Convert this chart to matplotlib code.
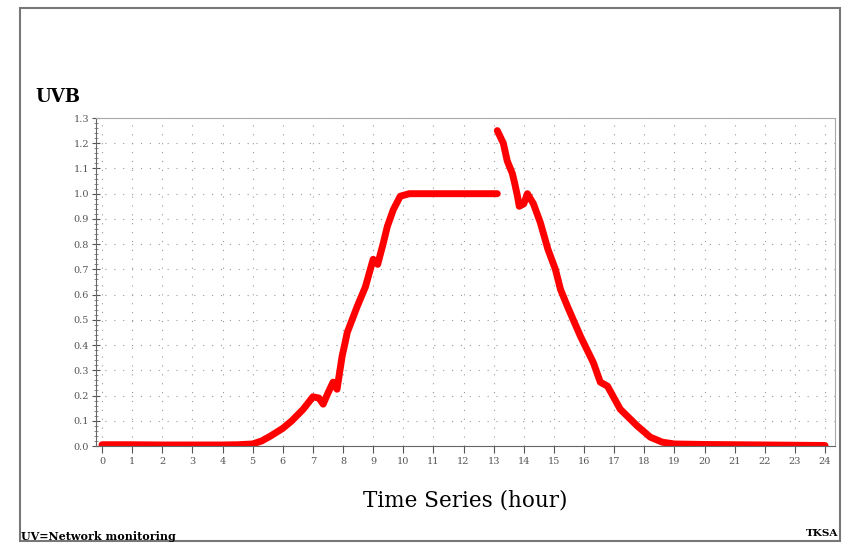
import matplotlib
matplotlib.use("Agg")
import matplotlib.pyplot as plt
from matplotlib.patches import Rectangle
from matplotlib.ticker import MultipleLocator

# morning rise and flat top (hour, UVB)
hours_am = [0, 1, 2, 3, 4, 4.5, 5, 5.3, 5.6, 6.0, 6.3, 6.68, 7.0, 7.2, 7.34,
            7.5, 7.67, 7.8, 7.97, 8.07, 8.14, 8.3, 8.47, 8.74, 9.0, 9.15,
            9.34, 9.47, 9.67, 9.9, 10.2, 11, 12, 13.12]
uvb_am = [0.005, 0.005, 0.004, 0.004, 0.004, 0.005, 0.008, 0.02, 0.04, 0.07,
          0.10, 0.146, 0.195, 0.19, 0.166, 0.21, 0.253, 0.225, 0.356, 0.41,
          0.45, 0.50, 0.553, 0.63, 0.74, 0.72, 0.806, 0.87, 0.937, 0.99,
          1.0, 1.0, 1.0, 1.0]

# afternoon decline
hours_pm = [13.12, 13.32, 13.45, 13.62, 13.7, 13.79, 13.85, 14.0, 14.12,
            14.32, 14.55, 14.8, 15.05, 15.22, 15.45, 15.88, 16.31, 16.54,
            16.78, 17.2, 17.77, 18.2, 18.6, 19, 20, 21, 22, 23, 24]
uvb_pm = [1.25, 1.20, 1.13, 1.08, 1.04, 0.99, 0.95, 0.96, 1.0, 0.96, 0.885,
          0.78, 0.70, 0.62, 0.553, 0.435, 0.33, 0.253, 0.237, 0.146, 0.079,
          0.035, 0.015, 0.008, 0.006, 0.005, 0.004, 0.003, 0.002]

x_ticks = list(range(0, 25))
y_ticks = [i / 10 for i in range(0, 14)]

serif = "DejaVu Serif"
fig = plt.figure(figsize=(8.46, 5.43), dpi=100)
fig.patches.append(Rectangle((20 / 846, 2 / 543), 820 / 846, 533 / 543,
                             transform=fig.transFigure, fill=False,
                             edgecolor="#777777", lw=1.5))
ax = fig.add_axes([96 / 846, 1 - 446 / 543, 739 / 846, 328 / 543])

ax.plot(hours_am, uvb_am, color="#ff0000", lw=5, solid_joinstyle="round",
        solid_capstyle="round")
ax.plot(hours_pm, uvb_pm, color="#ff0000", lw=5, solid_joinstyle="round",
        solid_capstyle="round")

ax.set_xlim(-0.2, 24.33)
ax.set_ylim(0, 1.3)
ax.set_xticks(x_ticks)
ax.set_xticklabels([str(t) for t in x_ticks], family=serif, fontsize=7,
                   color="#555555")
ax.set_yticks(y_ticks)
ax.set_yticklabels([f"{t:.1f}" for t in y_ticks], family=serif, fontsize=7,
                   color="#555555")
ax.yaxis.set_minor_locator(MultipleLocator(0.02))
ax.tick_params(axis="x", direction="out", length=5, color="#555555", pad=3)
ax.tick_params(axis="y", which="major", direction="inout", length=6,
               color="#555555", pad=2)
ax.tick_params(axis="y", which="minor", direction="inout", length=3,
               color="#777777")
ax.grid(True, which="major", linestyle=(0, (1, 7)), color="#999999", lw=0.8)
for s in ["top", "right"]:
    ax.spines[s].set_color("#aaaaaa")
for s in ["left", "bottom"]:
    ax.spines[s].set_color("#666666")

fig.text(35 / 846, 1 - 97 / 543, "UVB", family=serif, fontsize=13,
         fontweight="bold", va="center", ha="left")
fig.text(465 / 846, 1 - 500 / 543, "Time Series (hour)", family=serif,
         fontsize=15.5, va="center", ha="center")
fig.text(21 / 846, 1 - 536 / 543, "UV=Network monitoring", family=serif,
         fontsize=8, fontweight="bold", va="center", ha="left")
fig.text(838 / 846, 1 - 533 / 543, "TKSA", family=serif, fontsize=7.5,
         fontweight="bold", va="center", ha="right")

fig.savefig("out.png", dpi=100)
